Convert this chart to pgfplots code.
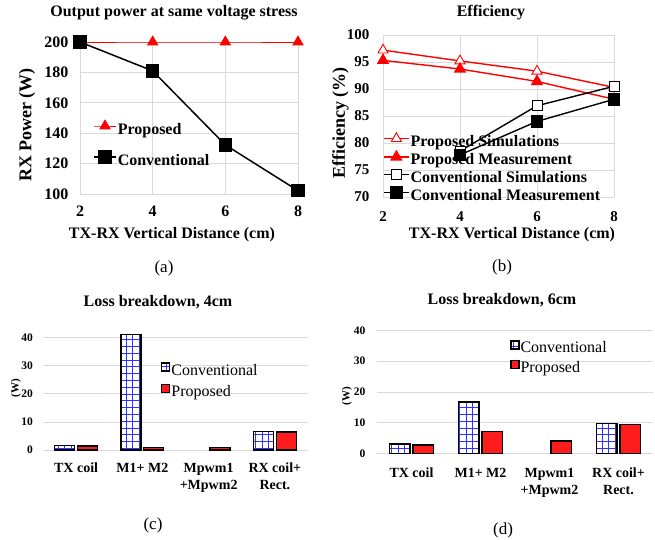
\documentclass[border=0pt]{standalone}
\usepackage{fontspec}
\setmainfont{Liberation Serif}
\usepackage{pgfplots}
\pgfplotsset{compat=1.18}
\usetikzlibrary{patterns}
\definecolor{gridc}{RGB}{217,217,217}
\definecolor{pred}{RGB}{255,0,0}
\definecolor{barred}{RGB}{255,28,28}
\definecolor{gblue}{RGB}{50,50,255}
\pgfdeclarepatternformonly{bluegrid}{\pgfqpoint{-0.5pt}{-0.5pt}}{\pgfqpoint{7.3pt}{7.3pt}}{\pgfqpoint{6.8pt}{6.8pt}}{%
  \pgfsetlinewidth{0.55pt}%
  \pgfpathmoveto{\pgfqpoint{0pt}{3.4pt}}\pgfpathlineto{\pgfqpoint{6.8pt}{3.4pt}}%
  \pgfpathmoveto{\pgfqpoint{3.4pt}{0pt}}\pgfpathlineto{\pgfqpoint{3.4pt}{6.8pt}}%
  \pgfusepath{stroke}}
\newcommand{\fs}[1]{\fontsize{#1}{#1}\selectfont}
\pgfplotsset{
  convbar/.style={draw=black, line width=1.3pt, preaction={fill=white}, pattern=bluegrid, pattern color=gblue},
  propbar/.style={draw=black, line width=1.3pt, fill=barred},
}
\begin{document}
\begin{tikzpicture}
\useasboundingbox (0pt,0pt) rectangle (655pt,-540pt);

% ---------- (a)
\begin{axis}[
  at={(80pt,-194pt)}, anchor=south west, scale only axis,
  width=218pt, height=152pt, clip=false,
  xmin=2, xmax=8, ymin=100, ymax=200,
  xtick={2,4,6,8}, ytick={100,120,...,200},
  grid=major, grid style={gridc, line width=0.7pt},
  axis line style={draw=none}, tick style={draw=none},
  /pgf/number format/assume math mode=true,
  ticklabel style={font=\bfseries\fs{16}},
  xticklabel style={yshift=-8pt}, yticklabel style={xshift=-8pt},
  legend cell align=left,
  legend image code/.code={\draw[mark repeat=2,mark phase=2,#1] plot coordinates {(0pt,4pt) (11pt,4pt) (22pt,4pt)};},
  legend style={draw=none, fill=none, at={(0.06,0.325)}, anchor=west,
    font=\bfseries\fs{16}, row sep=13pt, inner sep=0pt,
    nodes={inner sep=1pt, text height=11pt, text depth=3pt}},
]
\addplot[pred, line width=0.9pt, mark=triangle*, mark size=5.8pt, mark options={fill=pred}]
  coordinates {(2,200) (4,200) (6,200) (8,200)};
\addlegendentry{Proposed}
\addplot[black, line width=1.5pt, mark=square*, mark size=6pt]
  coordinates {(2,200) (4,181) (6,132.3) (8,102.2)};
\addlegendentry{Conventional}
\end{axis}

% ---------- (b)
\begin{axis}[
  at={(383pt,-197pt)}, anchor=south west, scale only axis,
  width=231pt, height=162pt, clip=false,
  xmin=2, xmax=8, ymin=70, ymax=100,
  xtick={2,4,6,8}, ytick={70,75,...,100},
  grid=major, grid style={gridc, line width=0.7pt},
  axis line style={draw=none}, tick style={draw=none},
  /pgf/number format/assume math mode=true,
  ticklabel style={font=\bfseries\fs{15}},
  xticklabel style={yshift=-11pt}, yticklabel style={xshift=-10pt},
  legend cell align=left,
  legend image code/.code={\draw[mark repeat=2,mark phase=2,#1] plot coordinates {(0pt,4pt) (12.5pt,4pt) (25pt,4pt)};},
  legend style={draw=none, fill=none, at={(0,0.175)}, anchor=west,
    font=\bfseries\fs{16}, row sep=0.5pt, inner sep=0pt,
    nodes={inner sep=1pt, text height=11pt, text depth=3pt}},
]
\addplot[pred, line width=1.4pt, mark=triangle*, mark size=5.8pt, mark options={fill=white, line width=0.9pt}]
  coordinates {(2,97.2) (4,95.2) (6,93.3) (8,90.3)};
\addlegendentry{Proposed Simulations}
\addplot[pred, line width=1.4pt, mark=triangle*, mark size=5.8pt, mark options={fill=pred}]
  coordinates {(2,95.3) (4,93.7) (6,91.4) (8,88.1)};
\addlegendentry{Proposed Measurement}
\addplot[black, line width=1.4pt, mark=square*, mark size=5pt, mark options={fill=white, line width=0.9pt}]
  coordinates {(4,78.5) (6,86.9) (8,90.5)};
\addlegendentry{Conventional Simulations}
\addplot[black, line width=1.4pt, mark=square*, mark size=5.6pt]
  coordinates {(4,77.8) (6,84.0) (8,88.1)};
\addlegendentry{Conventional Measurement}
\end{axis}

% ---------- (c)
\begin{axis}[
  at={(43pt,-450pt)}, anchor=south west, scale only axis,
  width=265pt, height=118pt, clip=false,
  ybar=2.7pt, bar width=20pt,
  xmin=-0.5, xmax=3.5, ymin=0, ymax=42,
  xtick={0,1,2,3}, ytick={0,10,20,30,40},
  xticklabels={TX coil, M1+ M2, {Mpwm1\\+Mpwm2}, {RX coil+\\Rect.}},
  ymajorgrids, grid style={gridc, line width=0.7pt},
  axis line style={draw=none}, tick style={draw=none},
  /pgf/number format/assume math mode=true,
  yticklabel style={font=\bfseries\fs{11.5}, xshift=-6.5pt},
  xticklabel style={font=\bfseries\fontsize{14}{17}\selectfont, align=center, yshift=-5pt},
  legend cell align=left,
  legend image code/.code={\draw[#1] (0pt,0pt) rectangle (8pt,8pt);},
  legend style={draw=none, fill=none, at={(0.445,0.58)}, anchor=west,
    font=\fs{16}, row sep=5pt, inner sep=0pt,
    nodes={inner sep=1pt, text height=11pt, text depth=3pt}},
]
\addplot[convbar] coordinates {(0,1.5) (1,41.2) (3,6.5)};
\addlegendentry{Conventional}
\addplot[propbar] coordinates {(0,1.4) (1,0.9) (2,0.9) (3,6.4)};
\addlegendentry{Proposed}
\end{axis}

% ---------- (d)
\begin{axis}[
  at={(377pt,-453.3pt)}, anchor=south west, scale only axis,
  width=276pt, height=129pt, clip=false,
  ybar=3pt, bar width=20.5pt,
  xmin=-0.5, xmax=3.5, ymin=0, ymax=42,
  xtick={0,1,2,3}, ytick={0,10,20,30,40},
  xticklabels={TX coil, M1+ M2, {Mpwm1\\+Mpwm2}, {RX coil+\\Rect.}},
  ymajorgrids, grid style={gridc, line width=0.7pt},
  axis line style={draw=none}, tick style={draw=none},
  /pgf/number format/assume math mode=true,
  yticklabel style={font=\bfseries\fs{11.5}, xshift=-8pt},
  xticklabel style={font=\bfseries\fontsize{14}{17}\selectfont, align=center, yshift=-7pt},
  legend cell align=left,
  legend image code/.code={\draw[#1] (0pt,0pt) rectangle (8pt,8pt);},
  legend style={draw=none, fill=none, at={(0.482,0.735)}, anchor=west,
    font=\fs{16}, row sep=3pt, inner sep=0pt,
    nodes={inner sep=1pt, text height=11pt, text depth=3pt}},
]
\addplot[convbar] coordinates {(0,3.0) (1,16.7) (3,9.6)};
\addlegendentry{Conventional}
\addplot[propbar] coordinates {(0,2.7) (1,7.2) (2,4.0) (3,9.3)};
\addlegendentry{Proposed}
\end{axis}

% ---------- texts
\node[font=\bfseries\fs{16}] at (174pt,-13pt) {Output power at same voltage stress};
\node[font=\bfseries\fs{16}] at (491pt,-13pt) {Efficiency};
\node[font=\bfseries\fs{18}, rotate=90] at (27pt,-125pt) {RX Power (W)};
\node[font=\bfseries\fs{18}, rotate=90] at (340.5pt,-123pt) {Efficiency (\%)};
\node[font=\bfseries\fs{16}] at (172pt,-235pt) {TX-RX Vertical Distance (cm)};
\node[font=\bfseries\fs{16}] at (512pt,-235pt) {TX-RX Vertical Distance (cm)};
\node[font=\fs{17}] at (164pt,-268pt) {(a)};
\node[font=\fs{17}] at (502pt,-267pt) {(b)};
\node[font=\bfseries\fs{16}] at (158pt,-302pt) {Loss breakdown, 4cm};
\node[font=\bfseries\fs{16}] at (502pt,-300pt) {Loss breakdown, 6cm};
\node[font=\bfseries\fs{11}, rotate=90] at (16pt,-388pt) {(W)};
\node[font=\bfseries\fs{11}, rotate=90] at (347pt,-396pt) {(W)};
\node[font=\fs{17}] at (153pt,-525pt) {(c)};
\node[font=\fs{17}] at (503pt,-530pt) {(d)};
\end{tikzpicture}
\end{document}
